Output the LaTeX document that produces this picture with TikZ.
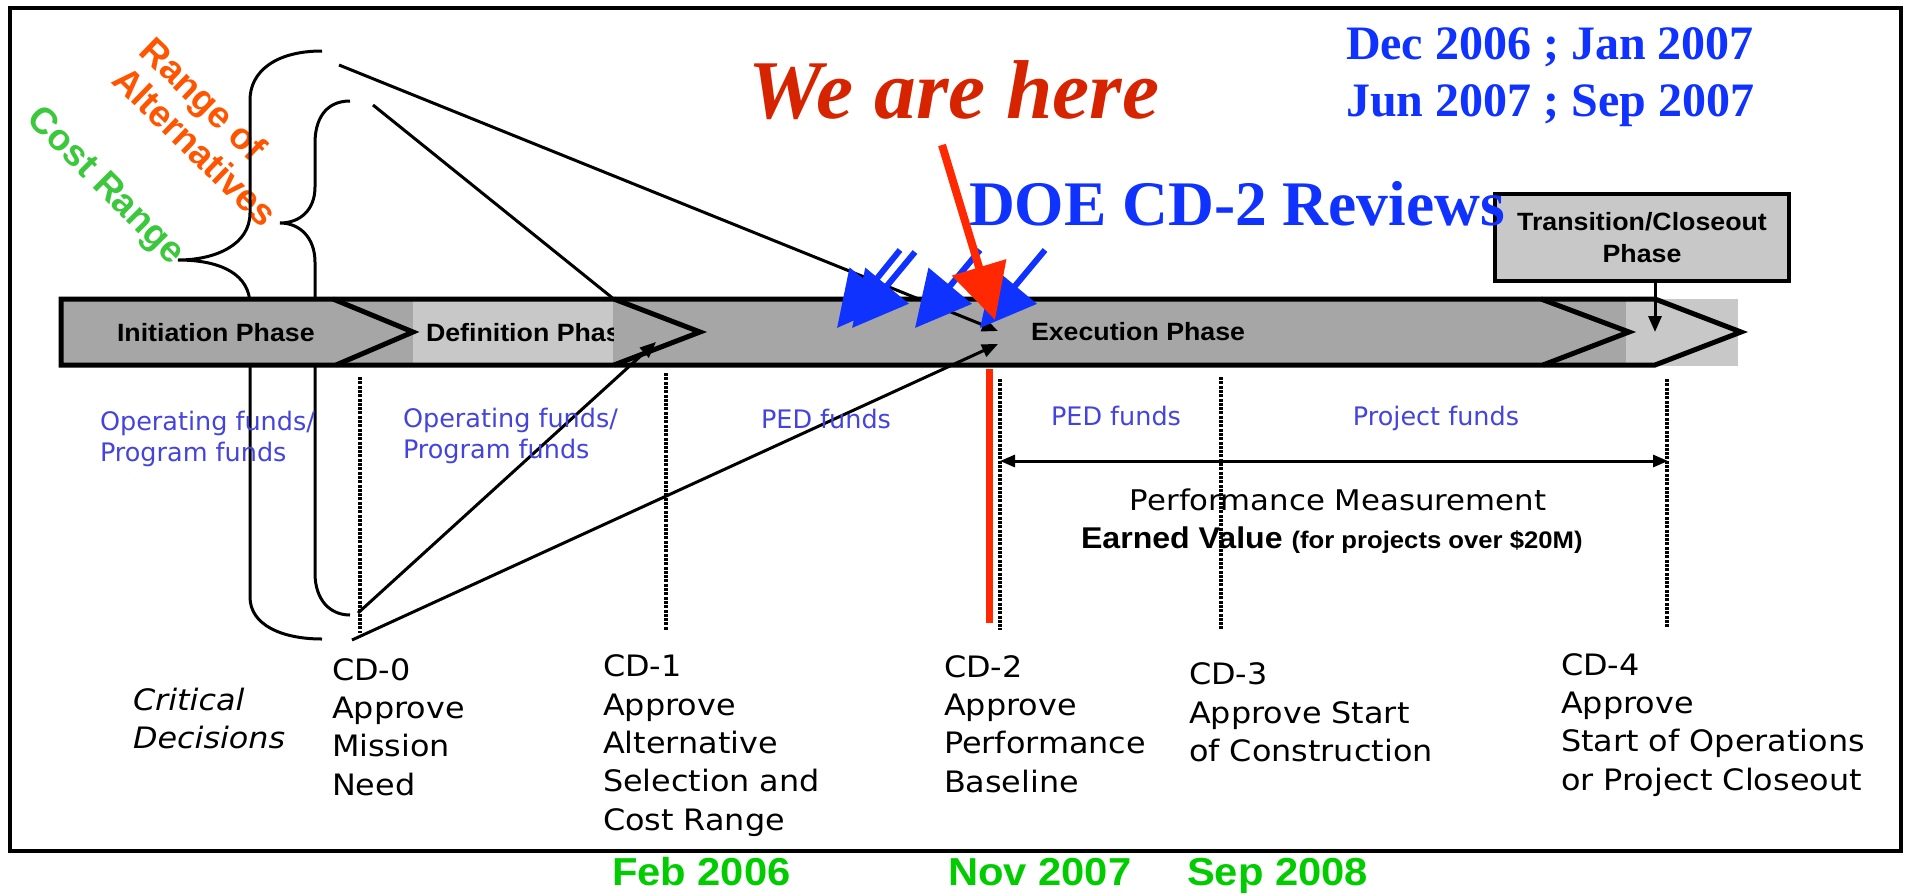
\documentclass[tikz,border=0pt]{standalone}
\usepackage{fontspec}
\usetikzlibrary{arrows.meta}
\setmainfont{DejaVu Sans}
\newfontfamily\arialfont[FakeStretch=1.07]{Liberation Sans}
\newfontfamily\arialplain{Liberation Sans}
\newfontfamily\timesfont{Liberation Serif}
\newfontfamily\verdfont{DejaVu Sans}
\newfontfamily\verdwide[FakeStretch=1.08]{DejaVu Sans}
\newcommand\fsz[2]{\fontsize{#1}{#2}\selectfont}

\definecolor{bardark}{RGB}{166,166,166}
\definecolor{barlight}{RGB}{200,200,200}
\definecolor{fundblue}{RGB}{68,68,221}
\definecolor{revblue}{RGB}{15,50,255}
\definecolor{herered}{RGB}{214,36,0}
\definecolor{arrowred}{RGB}{255,40,0}
\definecolor{altorange}{RGB}{255,85,0}
\definecolor{costgreen}{RGB}{60,200,60}
\definecolor{dategreen}{RGB}{0,204,0}

% multi-line nodes are anchored at the baseline of their last line
\tikzset{
  txt/.style={inner sep=0pt, outer sep=0pt},
  phase/.style={txt, font=\arialfont\bfseries\fsz{25}{31.5}},
  funds/.style={txt, align=left, text=fundblue, font=\verdfont\fsz{25.5}{31}},
  cdlabel/.style={txt, align=left, font=\verdwide\fsz{29.5}{38.3}},
  datelabel/.style={txt, text=dategreen, font=\arialfont\bfseries\fsz{39}{45}},
  outline/.style={line width=5pt, line join=miter},
  chevron/.style={line width=5pt, line join=miter},
  cdline/.style={line width=3.2pt, dash pattern=on 3pt off 1.3pt},
  brace/.style={line width=3pt},
  conn/.style={line width=3pt, -{Triangle[length=16pt,width=13pt]}},
  blueshaft/.style={revblue, line width=6pt, -{Triangle[length=55pt,width=55pt]}},
  redshaft/.style={arrowred, line width=8pt, -{Triangle[length=55pt,width=55pt]}},
  tbox/.style={draw, line width=3.5pt, fill=barlight, minimum width=294pt,
    minimum height=87pt, align=center, inner sep=0pt,
    font=\arialfont\bfseries\fsz{25}{31.5}},
}

\begin{document}
\begin{tikzpicture}[x=1pt, y=-1pt]
\useasboundingbox (0,0) rectangle (1906,895);

% outer frame
\draw[line width=3.5pt] (10,8) rectangle (1901,851);

% rotated brace labels
\node[txt, align=left, rotate=-44, anchor=base west, text=altorange,
      font=\arialplain\bfseries\fsz{37}{40}] (alts) at (110,82) {Range of\\Alternatives};
\node[txt, rotate=-45, anchor=base east, text=costgreen,
      font=\arialplain\bfseries\fsz{37}{40}] (cost) at (171,266) {Cost Range};

% braces
\draw[brace] (322,51) .. controls (275,51) and (250,72) .. (250,100) -- (250,213)
  .. controls (250,245) and (215,260) .. (178,260)
  .. controls (222,260) and (250,275) .. (250,305) -- (250,597)
  .. controls (250,625) and (282,639) .. (322,639);
\draw[brace] (350,101) .. controls (325,101) and (315,120) .. (315,143) -- (315,187)
  .. controls (315,210) and (300,223) .. (280,223)
  .. controls (300,223) and (315,238) .. (315,262) -- (315,573)
  .. controls (315,600) and (330,615) .. (350,615);

% phase bar
\fill[bardark] (61,299) -- (1655,299) -- (1741,332) -- (1655,365) -- (61,365) -- cycle;
\fill[barlight] (413,301) rectangle (613,363);
\fill[barlight] (1626,299) rectangle (1738,366);
\node[phase, anchor=base west] (init) at (117,341) {Initiation Phase};
\begin{scope}
  \clip (413,301) rectangle (613,363);
  \node[phase, anchor=base west] (defn) at (426,341) {Definition Phase};
\end{scope}
\node[phase, anchor=base west] (exec) at (1031,340) {Execution Phase};
\draw[outline] (61,299) -- (1655,299) -- (1741,332) -- (1655,365) -- (61,365) -- cycle;
\draw[chevron] (333,299) -- (413,332) -- (336,365);
\draw[chevron] (614,299) -- (700,332) -- (614,365);
\draw[chevron] (1541,299) -- (1629,332) -- (1543,365);

% transition / closeout box
\node[tbox] (trans) at (1642,237.5) {Transition/Closeout\\Phase};
\coordinate (transin) at (1655,332);
\draw[conn] (transin |- trans.south) -- (transin);

% critical decision markers
\coordinate (cd0t) at (360,377); \coordinate (cd0b) at (360,633);
\coordinate (cd1t) at (666,373); \coordinate (cd1b) at (666,630);
\coordinate (cd2t) at (1000,379); \coordinate (cd2b) at (1000,630);
\coordinate (cd3t) at (1221,377); \coordinate (cd3b) at (1221,630);
\coordinate (cd4t) at (1667,379); \coordinate (cd4b) at (1667,628);
\draw[cdline] (cd0t) -- (cd0b);
\draw[cdline] (cd1t) -- (cd1b);
\draw[cdline] (cd2t) -- (cd2b);
\draw[cdline] (cd3t) -- (cd3b);
\draw[cdline] (cd4t) -- (cd4b);
\coordinate (nowt) at (989,369); \coordinate (nowb) at (989,623);
\draw[arrowred, line width=7pt] (nowt) -- (nowb);

% connectors from the alternatives and from CD-0
\coordinate (l1s) at (339,65);  \coordinate (cd2up) at (998,331);
\coordinate (l2s) at (373,105); \coordinate (defchev) at (615,300);
\coordinate (cd0a) at (358,613); \coordinate (cd1tip) at (656,342);
\coordinate (cd0c) at (352,640); \coordinate (cd2low) at (998,344);
\draw[conn] (l1s) -- (cd2up);
\draw[line width=3pt] (l2s) -- (defchev);
\draw[conn] (cd0a) -- (cd1tip);
\draw[conn] (cd0c) -- (cd2low);

% funding labels
\node[funds, anchor=base west] (f1) at (100,461.5) {Operating funds/\\Program funds};
\node[funds, anchor=base west] (f2) at (403,458) {Operating funds/\\Program funds};
\node[funds, anchor=base] (f3) at (826,428) {PED funds};
\node[funds, anchor=base] (f4) at (1116,425) {PED funds};
\node[funds, anchor=base] (f5) at (1436,425) {Project funds};

% performance measurement span
\coordinate (pmL) at (1000,461); \coordinate (pmR) at (1668,461);
\draw[line width=3pt, {Triangle[length=15pt,width=12pt]}-{Triangle[length=15pt,width=12pt]}] (pmL) -- (pmR);
\node[txt, anchor=base, font=\verdwide\fsz{28.5}{34}] (perf) at (1338,510) {Performance Measurement};
\node[txt, anchor=base west, font=\arialfont\bfseries\fsz{30}{36}] (ev) at (1081,548)
  {Earned Value {\fsz{24}{36}(for projects over \$20M)}};

% critical decisions
\node[txt, align=left, anchor=base west, font=\verdwide\itshape\fsz{29.5}{38}] (crit) at (133,748) {Critical\\Decisions};
\node[cdlabel, anchor=base west] (cd0) at (332,795) {CD-0\\Approve\\Mission\\Need};
\node[cdlabel, anchor=base west] (cd1) at (603,830) {CD-1\\Approve\\Alternative\\Selection and\\Cost Range};
\node[cdlabel, anchor=base west] (cd2) at (944,792) {CD-2\\Approve\\Performance\\Baseline};
\node[cdlabel, anchor=base west] (cd3) at (1189,761.5) {CD-3\\Approve Start\\of Construction};
\node[cdlabel, anchor=base west] (cd4) at (1561,790) {CD-4\\Approve\\Start of Operations\\or Project Closeout};

% dates under the frame
\node[datelabel, anchor=base west] (d1) at (612,885) {Feb 2006};
\node[datelabel, anchor=base west] (d2) at (948,885) {Nov 2007};
\node[datelabel, anchor=base west] (d3) at (1187,885) {Sep 2008};

% review dates and callouts
\node[txt, align=left, anchor=base west, text=revblue,
      font=\timesfont\bfseries\fsz{48}{57.7}] (rev) at (1346,116.7) {Dec 2006 ; Jan 2007\\Jun 2007 ; Sep 2007};
\node[txt, anchor=base west, text=revblue, font=\timesfont\bfseries\fsz{63.5}{70}] (doe) at (969,225) {DOE CD-2 Reviews};
\node[txt, anchor=base, text=herered, font=\timesfont\bfseries\itshape\fsz{83.5}{90}] (here) at (954,118) {We are here};

% review arrows
\coordinate (ra1) at (900,250);  \coordinate (rt1) at (837,328);
\coordinate (ra2) at (915,252);  \coordinate (rt2) at (852,328);
\coordinate (ra3) at (980,250);  \coordinate (rt3) at (915,328);
\coordinate (ra4) at (1045,250); \coordinate (rt4) at (980,328);
\draw[blueshaft] (ra1) -- (rt1);
\draw[blueshaft] (ra2) -- (rt2);
\draw[blueshaft] (ra3) -- (rt3);
\draw[blueshaft] (ra4) -- (rt4);

% current position arrow
\coordinate (hereA) at (942,145); \coordinate (hereT) at (995,320);
\draw[redshaft] (hereA) -- (hereT);
\end{tikzpicture}
\end{document}
